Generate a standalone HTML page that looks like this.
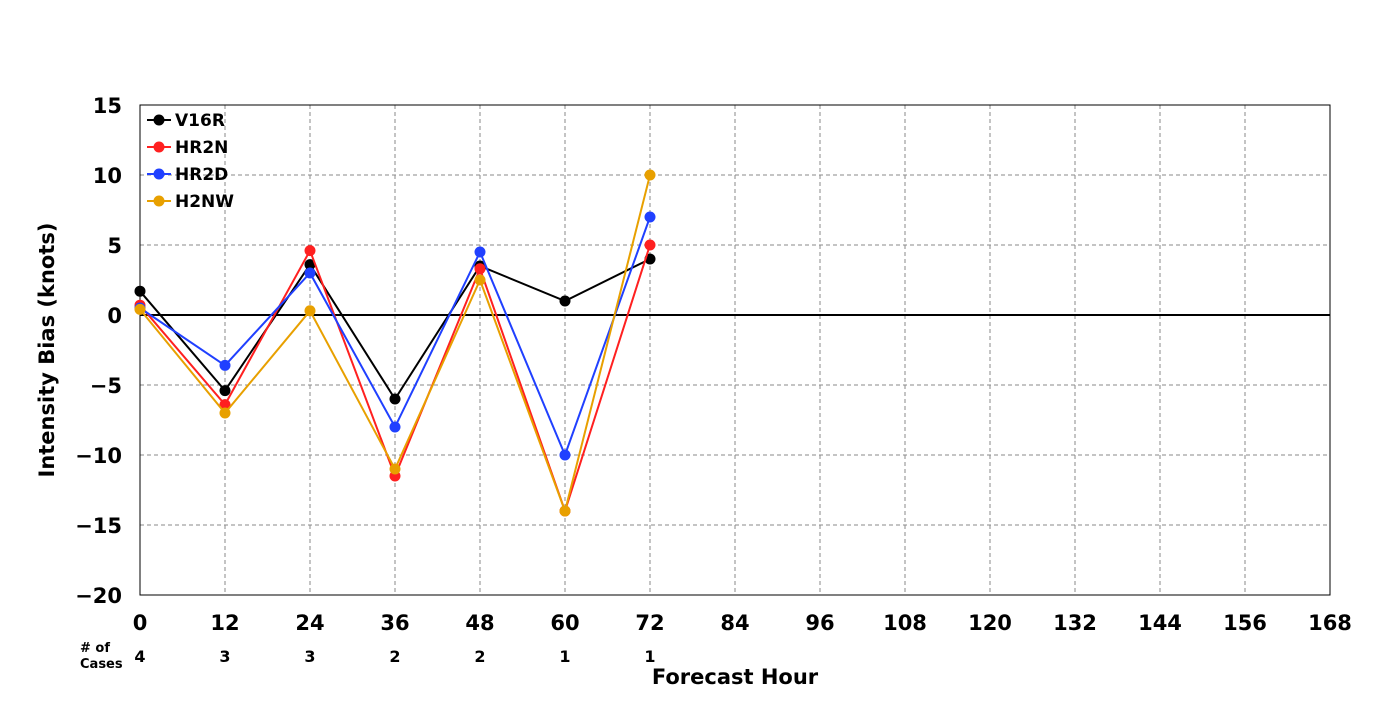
<!DOCTYPE html>
<html><head><meta charset="utf-8"><style>
body{margin:0;background:#fff}
svg text{font-family:"DejaVu Sans","Liberation Sans",sans-serif;font-weight:bold}
</style></head><body>
<svg id="chart" width="1400" height="700" xmlns="http://www.w3.org/2000/svg">
<g id="grid"></g><g id="axes"></g><g id="series"></g><g id="legend"></g>
</svg>
<script>
const hours=[0,12,24,36,48,60,72];
const cases=[4,3,3,2,2,1,1];
const xTicks=[0,12,24,36,48,60,72,84,96,108,120,132,144,156,168];
const yTicks=[15,10,5,0,-5,-10,-15,-20];
const names=["V16R","HR2N","HR2D","H2NW"];
const colors=["#000000","#ff2020","#2040ff","#e8a000"];
const v16r=[1.7,-5.4,3.6,-6,3.5,1,4];
const hr2n=[0.7,-6.4,4.6,-11.5,3.3,-14,5];
const hr2d=[0.5,-3.6,3,-8,4.5,-10,7];
const h2nw=[0.4,-7,0.3,-11,2.5,-14,10];
const seriesData=[v16r,hr2n,hr2d,h2nw];
const L=140,R=1330,T=105,B=595;
const x=h=>L+(h-0)/(168-0)*(R-L);
const y=v=>T+(15-v)/(15-(-20))*(B-T);
const NS="http://www.w3.org/2000/svg";
function mk(tag,attrs,parent,txt){const e=document.createElementNS(NS,tag);for(const k in attrs)e.setAttribute(k,attrs[k]);if(txt!==undefined)e.textContent=txt;parent.appendChild(e);return e;}
const grid=document.getElementById('grid'),axes=document.getElementById('axes'),ser=document.getElementById('series'),leg=document.getElementById('legend');
xTicks.forEach(t=>{
 if(t>0&&t<168){const g=mk('line',{x1:x(t),x2:x(t),y1:T,y2:B,stroke:'#888','stroke-dasharray':'4,3','stroke-width':1},grid);
 
 }
 const tl=mk('text',{x:x(t),y:B+35,'text-anchor':'middle','font-size':21},axes,t);
 
 
});
yTicks.forEach(t=>{
 if(t!==15&&t!==-20){const g=mk('line',{x1:L,x2:R,y1:y(t),y2:y(t),stroke:t===0?'#000':'#888','stroke-dasharray':t===0?'':'4,3','stroke-width':t===0?2:1},grid);
 
 }
 const tl=mk('text',{x:L-18,y:y(t)+8,'text-anchor':'end','font-size':21},axes,t<0?'\u2212'+(-t):t);
 
 
});
const fr=mk('rect',{x:L,y:T,width:R-L,height:B-T,fill:'none',stroke:'#000','stroke-width':1},axes);


const yl=mk('text',{x:54,y:350,'text-anchor':'middle','font-size':21,transform:'rotate(-90 54 350)'},axes,'Intensity Bias (knots)');


const xl=mk('text',{x:735,y:684,'text-anchor':'middle','font-size':21},axes,'Forecast Hour');


const c1=mk('text',{x:80,y:652,'font-size':13},axes,'# of');


const c2=mk('text',{x:80,y:668,'font-size':13},axes,'Cases');


hours.forEach((h,i)=>{const t=mk('text',{x:x(h),y:662,'text-anchor':'middle','font-size':16},axes,cases[i]);
 
 });
seriesData.forEach((d,s)=>{
 const g=mk('g',{},ser);
 
 
 const pts=hours.map((h,i)=>x(h)+','+y(d[i])).join(' ');
 const pl=mk('polyline',{points:pts,fill:'none',stroke:colors[s],'stroke-width':2},g);
 
 
 hours.forEach((h,i)=>{const c=mk('circle',{cx:x(h),cy:y(d[i]),r:5.5,fill:colors[s]},g);
  
  });
 const ly=120+s*27;
 const lg=mk('g',{},leg);
 
 
 mk('line',{x1:147,x2:171,y1:ly,y2:ly,stroke:colors[s],'stroke-width':2},lg);
 mk('circle',{cx:159,cy:ly,r:5.5,fill:colors[s]},lg);
 mk('text',{x:175,y:ly+6,'font-size':17},lg,names[s]);
});
</script>
</body></html>
